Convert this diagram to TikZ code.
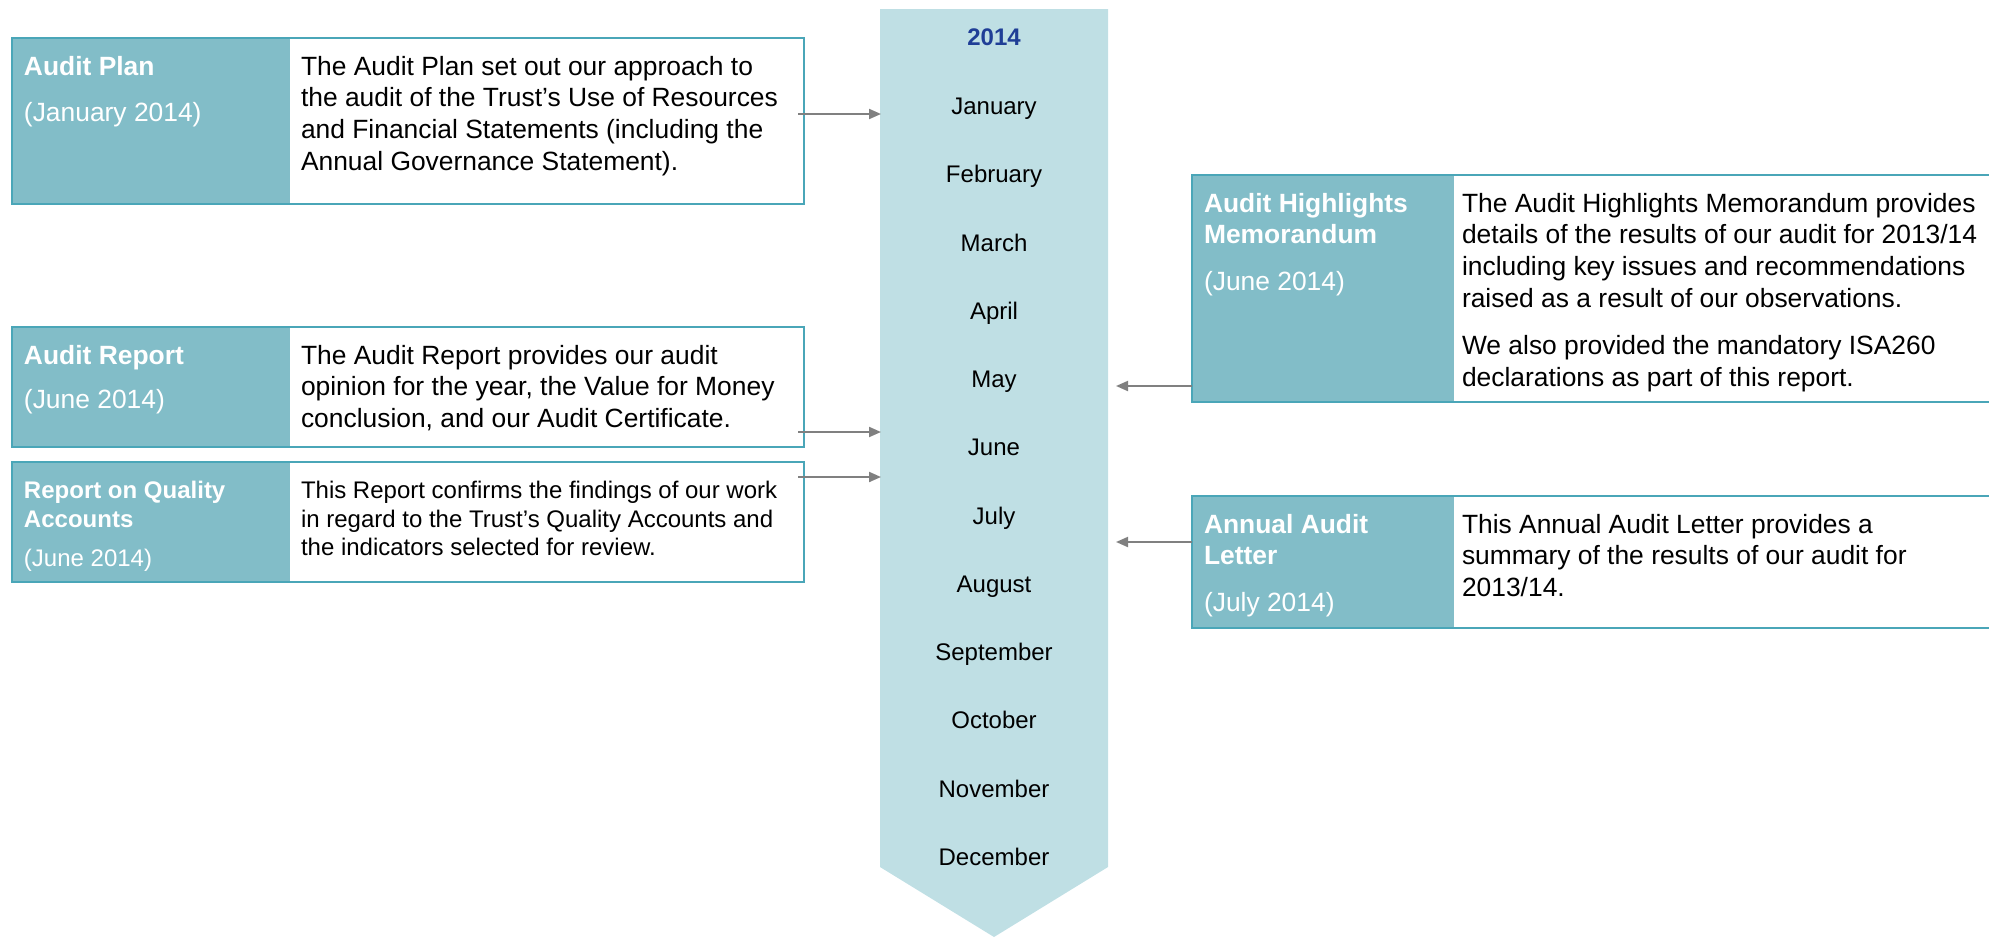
\documentclass[tikz,border=0pt]{standalone}
\usepackage{fontspec}
\setmainfont{Liberation Sans}
\usetikzlibrary{arrows.meta}
\definecolor{hdrfill}{HTML}{82BDC8}
\definecolor{edge}{HTML}{4AA6B8}
\definecolor{band}{HTML}{BFDFE4}
\definecolor{yearblue}{HTML}{1F3E96}
\definecolor{linkgray}{HTML}{808080}
\newcommand{\bodyfont}{\fontsize{13.2pt}{15.9pt}\selectfont}
\newcommand{\smallbodyfont}{\fontsize{12pt}{14.2pt}\selectfont}
\newcommand{\monthfont}{\fontsize{12pt}{14pt}\selectfont}
\newcommand{\cellstack}[2]{\parbox[t]{#1}{\raggedright#2}}

\begin{document}
\begin{tikzpicture}[x=0.5pt,y=-0.5pt,
  frame/.style={draw=edge, line width=0.75pt, fill=white, anchor=north west,
    inner sep=0pt, outer sep=0pt,
    path picture={\fill[hdrfill] (path picture bounding box.north west)
      rectangle ([xshift=#1]path picture bounding box.south west);}},
  txt/.style={anchor=base west, inner sep=0pt, outer sep=0pt},
  hdrtxt/.style={txt, text=white},
  month/.style={anchor=base, inner sep=0pt, font=\monthfont},
  link/.style={draw=linkgray, line width=1pt, -{Triangle[length=6pt,width=5pt]}}
]
\useasboundingbox (0,0) rectangle (1989,937);

% timeline band with chevron end
\fill[band] (880,9) -- (1108,9) -- (1108,867) -- (994,937) -- (880,867) -- cycle;
\node[month, font=\monthfont\bfseries, text=yearblue] (yr) at (994,45.5) {2014};
\foreach \m [count=\i] in {January,February,March,April,May,June,July,August,September,October,November,December}
  \node[month] (m\i) at (994,{114.5+(\i-1)*68.27}) {\m};

% left column boxes
\node[frame=139pt, minimum width=396pt, minimum height=83pt] (plan) at (12,38) {};
\node[hdrtxt] (planH) at (24,75) {\cellstack{130pt}{\bodyfont\textbf{Audit Plan}\par\vspace{7.5pt}(January 2014)}};
\node[txt] (planB) at (301,75) {\cellstack{255pt}{\bodyfont The Audit Plan set out our approach to\\the audit of the Trust’s Use of Resources\\and Financial Statements (including the\\Annual Governance Statement).}};

\node[frame=139pt, minimum width=396pt, minimum height=60pt] (report) at (12,327) {};
\node[hdrtxt] (reportH) at (24,364) {\cellstack{130pt}{\bodyfont\textbf{Audit Report}\par\vspace{6.5pt}(June 2014)}};
\node[txt] (reportB) at (301,364) {\cellstack{255pt}{\bodyfont The Audit Report provides our audit\\opinion for the year, the Value for Money\\conclusion, and our Audit Certificate.}};

\node[frame=139pt, minimum width=396pt, minimum height=60pt] (quality) at (12,462) {};
\node[hdrtxt] (qualityH) at (24,498.6) {\cellstack{130pt}{\smallbodyfont\textbf{Report on Quality\\Accounts}\par\vspace{5.5pt}(June 2014)}};
\node[txt] (qualityB) at (301,498.6) {\cellstack{255pt}{\smallbodyfont This Report confirms the findings of our work\\in regard to the Trust’s Quality Accounts and\\the indicators selected for review.}};

% right column boxes
\node[frame=131pt, minimum width=404pt, minimum height=113.5pt] (memo) at (1192,175) {};
\node[hdrtxt] (memoH) at (1204,212) {\cellstack{124pt}{\bodyfont\textbf{Audit Highlights\\Memorandum}\par\vspace{7.5pt}(June 2014)}};
\node[txt] (memoB) at (1462,212) {\cellstack{265pt}{\bodyfont The Audit Highlights Memorandum provides\\details of the results of our audit for 2013/14\\including key issues and recommendations\\raised as a result of our observations.\par\vspace{7.5pt}We also provided the mandatory ISA260\\declarations as part of this report.}};

\node[frame=131pt, minimum width=404pt, minimum height=66pt] (letter) at (1192,496) {};
\node[hdrtxt] (letterH) at (1204,533) {\cellstack{124pt}{\bodyfont\textbf{Annual Audit\\Letter}\par\vspace{7.5pt}(July 2014)}};
\node[txt] (letterB) at (1462,533) {\cellstack{265pt}{\bodyfont This Annual Audit Letter provides a\\summary of the results of our audit for\\2013/14.}};

% connectors into the timeline
\coordinate (planOut) at (798,114);   \coordinate (janIn) at (881,114);
\coordinate (reportOut) at (798,432); \coordinate (juneIn) at (881,432);
\coordinate (qualityOut) at (798,477);\coordinate (juneIn2) at (881,477);
\coordinate (memoOut) at (1192,386);  \coordinate (mayIn) at (1116,386);
\coordinate (letterOut) at (1192,542);\coordinate (julyIn) at (1116,542);
\draw[link] (planOut) -- (janIn);
\draw[link] (reportOut) -- (juneIn);
\draw[link] (qualityOut) -- (juneIn2);
\draw[link] (memoOut) -- (mayIn);
\draw[link] (letterOut) -- (julyIn);
\end{tikzpicture}
\end{document}
